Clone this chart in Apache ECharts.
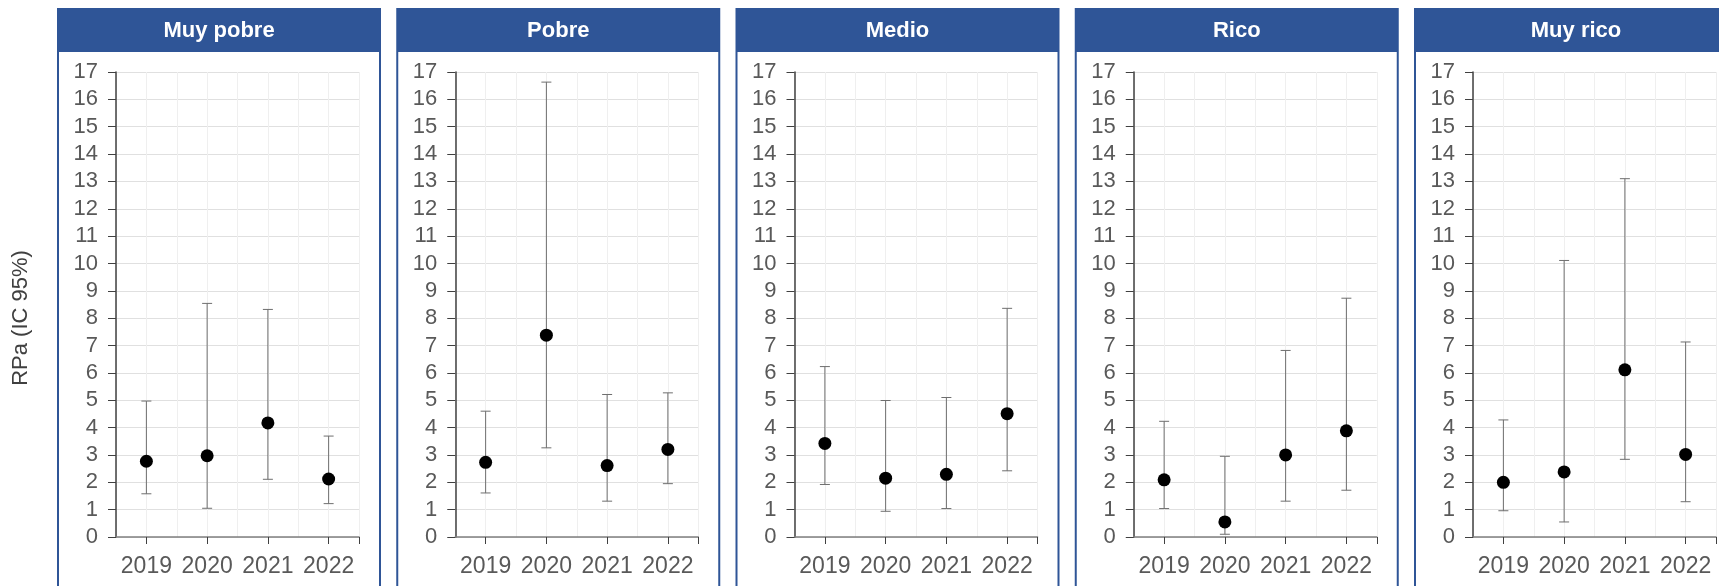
<!DOCTYPE html>
<html>
<head>
<meta charset="utf-8">
<script src="https://cdn.jsdelivr.net/npm/echarts@6/dist/echarts.min.js"></script>
<style>
html,body{margin:0;padding:0;background:#fff;}
#chart{width:1719px;height:586px;}
</style>
</head>
<body>
<div id="chart"></div>
<script>
const years = ['2019', '2020', '2021', '2022'];
const panelTitles = ['Muy pobre', 'Pobre', 'Medio', 'Rico', 'Muy rico'];
const yTicks = [0, 17, 1];
const yAxisTitle = 'RPa (IC 95%)';

const estMuyPobre = [2.77, 2.97, 4.17, 2.12];
const lowMuyPobre = [1.58, 1.05, 2.11, 1.22];
const highMuyPobre = [4.97, 8.54, 8.32, 3.69];

const estPobre = [2.73, 7.38, 2.61, 3.20];
const lowPobre = [1.61, 3.26, 1.31, 1.95];
const highPobre = [4.60, 16.63, 5.21, 5.27];

const estMedio = [3.42, 2.15, 2.29, 4.51];
const lowMedio = [1.92, 0.94, 1.04, 2.42];
const highMedio = [6.23, 4.99, 5.10, 8.36];

const estRico = [2.09, 0.55, 3.00, 3.88];
const lowRico = [1.04, 0.10, 1.31, 1.71];
const highRico = [4.23, 2.95, 6.82, 8.73];

const estMuyRico = [2.00, 2.38, 6.11, 3.02];
const lowMuyRico = [0.96, 0.55, 2.84, 1.29];
const highMuyRico = [4.28, 10.11, 13.10, 7.13];

const panelData = [
  [estMuyPobre, lowMuyPobre, highMuyPobre],
  [estPobre, lowPobre, highPobre],
  [estMedio, lowMedio, highMedio],
  [estRico, lowRico, highRico],
  [estMuyRico, lowMuyRico, highMuyRico]
];

const BLUE = '#2F5597';
const FONT = 'Liberation Sans, Arial, sans-serif';
const panelLeft0 = 58, panelPitch = 339.25, panelW = 322;
const gridOffset = 58, gridW = 243, gridTop = 72, gridH = 465;

const grids = [], xAxes = [], yAxes = [], series = [], graphics = [];

panelTitles.forEach((title, i) => {
  const pl = panelLeft0 + i * panelPitch;
  grids.push({left: pl + gridOffset, top: gridTop, width: gridW, height: gridH, containLabel: false});
  // main category axis
  xAxes.push({
    type: 'category', gridIndex: i, data: years, boundaryGap: true, position: 'bottom',
    axisLine: {show: true, lineStyle: {color: '#808080', width: 1.5}},
    axisTick: {show: true, alignWithLabel: true, length: 7, lineStyle: {color: '#404040'}},
    axisLabel: {color: '#595959', fontSize: 23, fontFamily: FONT, margin: 18, interval: 0},
    splitLine: {show: false}
  });
  // grid lines axis
  xAxes.push({
    type: 'value', gridIndex: i, min: 0, max: 8, interval: 1, position: 'bottom',
    axisLine: {show: false}, axisTick: {show: false}, axisLabel: {show: false},
    splitLine: {show: true, lineStyle: {color: '#efefef', width: 1}}
  });
  // end tick axis
  xAxes.push({
    type: 'value', gridIndex: i, min: 0, max: 8, interval: 1, position: 'bottom',
    axisLine: {show: false},
    axisTick: {show: true, length: 7, customValues: [8], lineStyle: {color: '#404040'}},
    axisLabel: {show: false}, splitLine: {show: false}
  });
  yAxes.push({
    type: 'value', gridIndex: i, min: yTicks[0], max: yTicks[1], interval: yTicks[2],
    axisLine: {show: true, lineStyle: {color: '#404040', width: 1.5}},
    axisTick: {show: true, length: 8, lineStyle: {color: '#404040'}},
    axisLabel: {color: '#595959', fontSize: 22, fontFamily: FONT, margin: 18},
    splitLine: {show: true, lineStyle: {color: '#e0e0e0', width: 1}}
  });
  const [est, low, high] = panelData[i];
  series.push({
    type: 'custom', xAxisIndex: i * 3, yAxisIndex: i,
    data: years.map((y, k) => [k, low[k], high[k]]),
    encode: {x: 0, y: [1, 2]},
    silent: true,
    renderItem: function (params, api) {
      const x = api.value(0);
      const lo = api.coord([x, api.value(1)]);
      const hi = api.coord([x, api.value(2)]);
      const cw = 5;
      const st = {stroke: '#6e6e6e', lineWidth: 1};
      return {type: 'group', children: [
        {type: 'line', shape: {x1: lo[0], y1: lo[1], x2: hi[0], y2: hi[1]}, style: st},
        {type: 'line', shape: {x1: hi[0] - cw, y1: hi[1], x2: hi[0] + cw, y2: hi[1]}, style: st},
        {type: 'line', shape: {x1: lo[0] - cw, y1: lo[1], x2: lo[0] + cw, y2: lo[1]}, style: st}
      ]};
    },
    z: 2
  });
  series.push({
    type: 'scatter', xAxisIndex: i * 3, yAxisIndex: i,
    data: est, symbol: 'circle', symbolSize: 13,
    itemStyle: {color: '#000', opacity: 1}, silent: true, z: 3
  });
  graphics.push({
    type: 'rect', shape: {x: pl, y: 9, width: panelW, height: 600},
    style: {fill: 'none', stroke: BLUE, lineWidth: 2}, z: 10
  });
  graphics.push({
    type: 'rect', shape: {x: pl, y: 9, width: panelW, height: 43},
    style: {fill: BLUE}, z: 11
  });
  graphics.push({
    type: 'text', x: pl + panelW / 2, y: 31,
    style: {text: title, fill: '#fff', font: 'bold 22px ' + FONT, textAlign: 'center', textVerticalAlign: 'middle'},
    z: 12
  });
});

graphics.push({
  type: 'text', x: 21, y: 318, rotation: Math.PI / 2,
  style: {text: yAxisTitle, fill: '#404040', font: '22px ' + FONT, textAlign: 'center', textVerticalAlign: 'middle'},
  z: 12
});

const chart = echarts.init(document.getElementById('chart'), null, {renderer: 'canvas'});
chart.setOption({
  animation: false,
  backgroundColor: '#fff',
  grid: grids, xAxis: xAxes, yAxis: yAxes, series: series, graphic: graphics
});
</script>
</body>
</html>
